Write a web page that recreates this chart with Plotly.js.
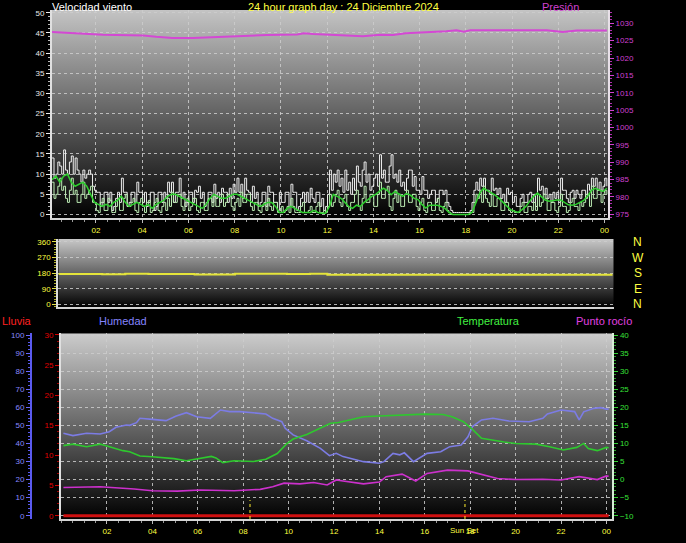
<!DOCTYPE html>
<html><head><meta charset="utf-8">
<script src="https://cdn.plot.ly/plotly-3.0.1.min.js"></script>
<style>html,body{margin:0;padding:0;background:#000;}#chart{width:686px;height:543px;}</style>
</head><body><div id="chart"></div>
<script>
// ---------- DATA ----------
const HOUR_TICKS = [2,4,6,8,10,12,14,16,18,20,22,24];
const HOUR_LABELS = ["02","04","06","08","10","12","14","16","18","20","22","00"];

// gust & speed sampled every 5 minutes starting 00:06 (one row per hour)
const GUST_START_H = 0.1;
const GUST_STEP_H = 1/12;
const windGust = [
 14,9,10,13,12,10,16,11,10,13,14.5,10,
 14,11,10,8,11,9,10,11,10,7,6,5.5,
 5.5,2,3,5.5,5.5,3,5.5,1,2,4,5.5,3,
 9,5.5,5.5,2,3,5.5,5.5,3,8,5.5,5.5,3,
 5.5,2,3,5.5,5.5,1,2,5.5,5.5,3,5.5,4,
 8,5.5,8,3,5.5,5.5,9,4,5.5,2,3,5.5,
 5.5,3,6,5.5,7,4,5.5,2,3,5.5,5.5,3,
 7.5,4,5.5,3,6.5,5.5,5.5,3,6.5,4,7.5,5.5,
 9,5.5,7.5,4,9,6,5.5,3,7,4,5.5,2,
 3,5.5,5.5,2,7,5.5,5.5,3,3,1,5.5,3,
 3,5.5,5.5,2,7.5,5.5,5.5,1,2,4,5.5,3,
 5.5,3,6.5,4,3,5.5,5.5,2,4,1,2,5,
 11,6,10,8,11,7,9,5.5,11,6,8,5,
 9,6,12,8,7,11,13,8,10,6,7,9,
 10,7,14.8,9,11,8,8,12,14.8,9,10,8,
 11,7,8,6,9,11,11,7,9.4,6,6,5,
 9.4,6,6,4,5,6,6,3,4,6,6,5,
 6,3,2,1,0.5,0.5,0.5,0.5,0.5,0.5,0.5,0.5,
 0.5,1,3,6,8,6,9,7,9,6,6,5,
 9,6,6.5,5,6.5,4,5,3,6.5,5,5.5,3,
 4.5,2,2,4,5,3,3,5,5.5,3,5,2,
 9,6,7,5,6.5,4,5,3,5.5,4,5.5,3,
 9,6,6,4,3,5.5,6,4,6,5,4,6,
 6,4,7.5,6,9,7,9,6,8,6,7,9,
 7];
const windSpeed = [
 8,4,5,7,9,6,7,4,3,6,9,5,
 6,3,3,5,8,4,5,6,7,3,3,1,
 0.5,3,4,1,1,4,3.5,0.5,0.5,2,4,1,
 1,4,5,2,2,3,4,1,0.5,3,4,2,
 0.5,3,3.5,0.5,1,3,4,1,0.5,2,3,1,
 4,2,5.5,3,3,5,5,2,1,3,4,1,
 2,4,4,1,0.5,3,3,1,1,4,4,2,
 4.5,2,2,4,5,2,3,5,4.5,2,1,3,
 4,2,5.5,3,3,5,5,2,1,3,3,1,
 0.5,2,3,1,4,2,1,3,3,0.5,0.5,2,
 0.5,1,2,0.5,4,2,0.5,0.5,0.5,2,3,0.5,
 0.5,1,2,0.5,0.5,2,3,0.5,0.5,1,0.5,2,
 5,2,3,5,6,3,2,4,5,2,1,3,
 3,5,6,2,1,4,7,3,3,5,5,2,
 2,5,8,4,4,6,7,2,1,4,6,3,
 5,2,2,5,6,3,3,5,5,2,1,3,
 4,1,0.5,3,3,1,1,3,4,1,0.5,2,
 3,1,0.5,0,0,0,0,0,0,0,0,0,
 0,0.5,0.5,3,5,4,6,3,7,4,3,2,
 5,2,2,4,4,1,1,3,3,1,0.5,1,
 0.5,0.5,0.5,2,3,0.5,0.5,2,2,1,3,1,
 5,2,3,5,4,1,1,3,3,1,0.5,2,
 5,2,2,0.5,1,3,4,2,2,1,3,2,
 3,5,5,2,7,4,4,6,6,3,5,6,
 5];
const gustTime = windGust.map((_, i) => GUST_START_H + i * GUST_STEP_H);

// average speed sampled every 10 minutes starting 00:06
const AVG_START_H = 0.1;
const AVG_STEP_H = 1/6;
const windAvg = [
 8.6,9.5,8,9.5,10,8, 7,7.5,8,7,5,3, 2.5,2,2.5,2,3,3.5, 4.5,3,2,2.5,3,2.5,
 2,2.5,1.5,2.5,3,3.5, 4.5,5,5,4.5,4,3.5, 3,2.5,2,1.5,2.5,4, 5,4.5,4,4,4.5,5,
 5,4.5,4,3.5,3,2.5, 2,2.5,3,3,2,0.5, 0.5,1.5,2,1.5,1,0.5, 0.5,0.5,1,0.5,0.3,0.3,
 2,5,4.5,4,3,2, 1.5,2.3,2,3,3.7,4.5, 5,5.7,6.5,6,4.9,5.7, 5,4.5,5.2,4.8,4,3.7,
 2.5,1.6,2.3,2.3,2.3,2, 1.5,0.5,0,0,0,0, 0,0.5,2.8,5.3,6.5,6, 5.5,4.8,4,3,2,1.2,
 0.8,0.5,1.2,2,3.3,4.5, 5.3,4.5,3.6,3.3,3.5,3.6, 3.6,3,2.4,2.3,2.5,3, 3.5,4.5,6,6.5,6,5.7, 6.5];
const avgTime = windAvg.map((_, i) => AVG_START_H + i * AVG_STEP_H);

const pressTime = [0.1,0.73,1.5,2.3,4.05,4.6,5.3,6.2,7.2,7.9,9.4,10.7,11.0,11.4,12.7,13.55,14.3,14.85,15.4,16.4,17.15,17.6,17.9,18.2,21.3,21.5,22.2,22.8,24.1];
const pressure = [1027.5,1027.2,1027.0,1026.7,1026.5,1026.1,1025.8,1025.8,1026.1,1026.3,1026.6,1026.8,1027.1,1026.9,1026.5,1026.3,1026.7,1026.6,1027.1,1027.4,1027.7,1028.0,1027.6,1028.0,1028.2,1028.0,1027.5,1027.9,1027.9];

const dirTime = [0.1,1,2,3,4,5,5.95,6.0,7.0,7.7,7.75,9,10,11,11.7,11.75,15,20,24.1];
const windDir = [175,175,174,176,175,175,175,172,172,172,176,176,175,176,176,170,170,170,170];
const DIR_TICKS = [0,90,180,270,360];
const DIR_LETTERS = ["N","E","S","W","N"];

const tempTime = [0.08,0.5,1.1,1.7,2.0,2.35,2.7,3.0,3.45,4.0,4.5,4.95,5.5,6.0,6.6,6.8,7.1,7.6,8.0,8.45,9.0,9.5,9.9,10.2,10.8,11.2,11.85,12.2,12.7,13.3,14.0,14.6,15.3,16.0,16.8,17.2,17.7,18.1,18.5,19.0,19.5,20.0,20.5,20.9,21.5,22.1,22.7,23.0,23.2,23.6,24.0,24.1];
const temperature = [9.4,9.8,9.1,9.8,9.3,8.6,8.0,7.7,6.5,6.3,6.1,5.8,5.2,5.8,6.4,6.0,4.7,5.2,5.2,5.0,5.6,7.2,9.8,11.2,12.5,13.7,15.6,15.8,16.5,17.4,17.6,17.8,17.95,18.1,18.0,17.4,16.0,13.9,11.4,10.8,10.4,10.0,9.9,9.8,9.1,8.2,8.9,10.0,8.6,8.0,8.9,8.8];

const humTime = [0.08,0.5,1.1,1.7,2.1,2.4,2.85,3.0,3.3,3.45,4.0,4.6,5.05,5.5,5.95,6.55,7.0,7.4,7.85,8.4,9.0,9.3,9.7,9.85,10.2,10.8,11.4,11.8,12.1,12.4,13.3,14.0,14.2,14.6,14.9,15.1,15.5,16.1,16.7,17.1,17.6,17.9,18.1,18.5,19.0,19.7,20.6,21.2,21.4,22.0,22.6,22.8,23.0,23.45,23.75,24.0,24.1];
const humidity = [45.6,44.3,45.6,45.2,46.5,48.9,50.2,50.0,51.5,53.9,53.3,52.6,55.2,57.0,54.8,53.9,58.5,57.6,57.6,57.0,56.3,53.9,52.0,48.4,44.7,41.5,37.3,33.2,34.5,32.7,29.9,29.0,29.9,34.5,33.7,34.8,29.9,34.5,35.4,38.2,39.1,43.7,49.3,53.0,53.9,52.4,52.0,53.9,56.3,58.5,57.6,53.0,57.5,59.4,59.8,59.0,59.0];

const dewTime = [0.08,1.7,3.2,4.0,5.1,6.1,7.6,8.75,9.3,9.8,10.5,11.1,11.7,12.1,12.4,13.3,14.0,14.3,15.0,15.6,16.1,17.0,17.9,18.5,19.2,20.0,21.2,22.0,22.8,23.6,24.0,24.1];
const dewPoint = [-2.2,-2.0,-2.6,-3.1,-3.2,-2.9,-3.1,-2.7,-2.0,-1.0,-1.2,-0.8,-1.5,-0.1,-0.4,-1.2,-0.7,0.8,1.5,-0.4,1.7,2.6,2.4,1.5,0.3,0.0,0.1,-0.1,0.8,0.0,1.0,0.9];

const rainTime = [0.08, 24.1];
const rain = [0, 0];

const sunEvents = [8.3, 17.77];
const sunLabels = ["", "Sun Set"];

// ---------- STYLE / LAYOUT ----------
const W = 686, H = 543;
const px = x => x / W;
const py = y => 1 - y / H;
const FONT = "Liberation Sans, Arial, sans-serif";
const GRID = 'rgba(205,205,205,0.85)';

function gradientImage(x0, x1, y0, y1, top, bottom) {
  const svg = "<svg xmlns='http://www.w3.org/2000/svg' width='10' height='100' viewBox='0 0 10 100' preserveAspectRatio='none'>" +
    "<defs><linearGradient id='g' x1='0' y1='0' x2='0' y2='1'><stop offset='0' stop-color='" + top + "'/>" +
    "<stop offset='1' stop-color='" + bottom + "'/></linearGradient></defs>" +
    "<rect width='10' height='100' fill='url(#g)'/></svg>";
  return {
    source: "data:image/svg+xml;charset=utf-8," + encodeURIComponent(svg),
    xref: 'paper', yref: 'paper', x: px(x0), y: py(y0),
    sizex: px(x1) - px(x0), sizey: py(y0) - py(y1),
    xanchor: 'left', yanchor: 'top', sizing: 'stretch', layer: 'below'
  };
}

const traces = [
  {x: gustTime, y: windGust, xaxis: 'x', yaxis: 'y', mode: 'lines', line: {color: '#eeeeee', width: 1, shape: 'hv'}},
  {x: gustTime, y: windSpeed, xaxis: 'x', yaxis: 'y', mode: 'lines', line: {color: '#bcecb4', width: 1, shape: 'hv'}},
  {x: avgTime, y: windAvg, xaxis: 'x', yaxis: 'y', mode: 'lines', line: {color: '#2ed02e', width: 1.5}},
  {x: pressTime, y: pressure, xaxis: 'x', yaxis: 'y4', mode: 'lines', line: {color: '#d448d4', width: 2}},
  {x: dirTime, y: windDir, xaxis: 'x2', yaxis: 'y2', mode: 'lines', line: {color: '#e4e43a', width: 2, shape: 'hv'}},
  {x: humTime, y: humidity, xaxis: 'x3', yaxis: 'y5', mode: 'lines', line: {color: '#7c7ce4', width: 1.6}},
  {x: tempTime, y: temperature, xaxis: 'x3', yaxis: 'y6', mode: 'lines', line: {color: '#2ec82e', width: 1.6}},
  {x: dewTime, y: dewPoint, xaxis: 'x3', yaxis: 'y6', mode: 'lines', line: {color: '#cc30cc', width: 1.6}},
  {x: rainTime, y: rain, xaxis: 'x3', yaxis: 'y3', mode: 'lines', line: {color: '#d01010', width: 3}}
];

const tickFont = c => ({family: FONT, size: 8, color: c});
const xCommon = {
  tickmode: 'array', tickvals: HOUR_TICKS, ticktext: HOUR_LABELS,
  ticks: 'outside', ticklen: 3, tickcolor: '#bbbbbb', tickfont: tickFont('#ffff40'),
  showgrid: true, gridcolor: GRID, griddash: 'dot', gridwidth: 1,
  showline: true, linecolor: '#d4d4d4', linewidth: 2, zeroline: false,
  minor: {tickmode: 'linear', tick0: 0, dtick: 0.5, ticks: 'outside', ticklen: 2, tickcolor: '#999999', showgrid: false},
  automargin: false, fixedrange: true
};

const annotations = [
  {text: 'Velocidad viento', x: px(50), y: py(6.5), xanchor: 'left', color: '#ffffff'},
  {text: '24 hour graph day : 24 Diciembre 2024', x: px(343), y: py(6.5), xanchor: 'center', color: '#ffff40'},
  {text: 'Presión', x: px(540), y: py(6.5), xanchor: 'left', color: '#d040d0'},
  {text: 'Lluvia', x: px(0), y: py(321), xanchor: 'left', color: '#ff2020'},
  {text: 'Humedad', x: px(97), y: py(321), xanchor: 'left', color: '#8484ff'},
  {text: 'Temperatura', x: px(455), y: py(321), xanchor: 'left', color: '#40f040'},
  {text: 'Punto rocío', x: px(574), y: py(321), xanchor: 'left', color: '#e040e0'}
].map(a => ({text: a.text, x: a.x, y: a.y, xref: 'paper', yref: 'paper', xanchor: a.xanchor, yanchor: 'middle',
  showarrow: false, font: {family: FONT, size: 11, color: a.color}}));

DIR_TICKS.forEach((v, i) => annotations.push({
  text: DIR_LETTERS[i], x: px(637.7), xref: 'paper', y: v, yref: 'y2', xanchor: 'center', yanchor: 'middle',
  showarrow: false, font: {family: FONT, size: 12, color: '#ffff40'}
}));
sunEvents.forEach((t, i) => { if (sunLabels[i]) annotations.push({
  text: sunLabels[i], x: t, xref: 'x3', y: py(530), yref: 'paper', xanchor: 'center', yanchor: 'middle',
  showarrow: false, font: {family: FONT, size: 8, color: '#ffff40'}
}); });

const shapes = sunEvents.map(t => ({type: 'line', xref: 'x3', yref: 'y3', x0: t, x1: t, y0: -0.55, y1: 2.6,
  line: {color: '#ffee30', width: 1, dash: 'dot'}}));

const layout = {
  width: W, height: H, margin: {l: 0, r: 0, t: 0, b: 0, pad: 0},
  paper_bgcolor: '#000000', plot_bgcolor: 'rgba(0,0,0,0)', showlegend: false,
  font: {family: FONT, size: 8, color: '#ffffff'},
  images: [
    gradientImage(52, 608, 10, 218, '#c4c4c4', '#000000'),
    gradientImage(58.3, 613.7, 239, 307.3, '#c8c8c8', '#000000'),
    gradientImage(61, 612.3, 333.3, 519, '#cccccc', '#000000')
  ],
  xaxis: Object.assign({}, xCommon, {domain: [px(52), px(608)], anchor: 'y', range: [0.097, 24.15]}),
  yaxis: {domain: [py(218), py(10)], anchor: 'x', range: [-0.87, 50.67], tick0: 0, dtick: 5,
    ticks: 'outside', ticklen: 4, tickcolor: '#eeeeee', tickfont: tickFont('#e8e8e8'),
    showgrid: true, gridcolor: GRID, griddash: 'dot', showline: true, linecolor: '#e0e0e0', linewidth: 2,
    zeroline: false, minor: {dtick: 1, ticks: 'outside', ticklen: 2, tickcolor: '#bbbbbb'}, automargin: false, fixedrange: true},
  yaxis4: {overlaying: 'y', side: 'right', anchor: 'x', range: [973.93, 1033.83], tick0: 975, dtick: 5,
    ticks: 'outside', ticklen: 4, tickcolor: '#d040d0', tickfont: tickFont('#d040d0'),
    showgrid: false, showline: true, linecolor: '#e8e0e8', linewidth: 2, zeroline: false,
    minor: {dtick: 1, ticks: 'outside', ticklen: 2, tickcolor: '#b030b0'}, automargin: false, fixedrange: true},
  xaxis2: {domain: [px(58.3), px(613.7)], anchor: 'y2', range: [0.097, 24.15], showticklabels: false, ticks: '',
    showgrid: false, showline: true, linecolor: '#d4d4d4', linewidth: 2, zeroline: false, automargin: false, fixedrange: true},
  yaxis2: {domain: [py(307.3), py(239)], anchor: 'x2', range: [-17.3, 377], tickmode: 'array', tickvals: DIR_TICKS,
    ticks: 'outside', ticklen: 4, tickcolor: '#e0e040', tickfont: tickFont('#ffff40'),
    showgrid: true, gridcolor: GRID, griddash: 'dot', showline: true, linecolor: '#dcdcdc', linewidth: 2, zeroline: false,
    minor: {tickmode: 'linear', tick0: 0, dtick: 15, ticks: 'outside', ticklen: 2, tickcolor: '#b0b030'}, automargin: false, fixedrange: true},
  xaxis3: Object.assign({}, xCommon, {domain: [px(61), px(612.3)], anchor: 'y3', range: [-0.026, 24.26]}),
  yaxis3: {domain: [py(519), py(333.3)], anchor: 'x3', range: [-0.55, 30.28], tick0: 0, dtick: 5,
    ticks: 'outside', ticklen: 4, tickcolor: '#d00000', tickfont: tickFont('#e00000'),
    showgrid: false, showline: true, linecolor: '#e0e0e0', linewidth: 2, zeroline: false,
    minor: {dtick: 1, ticks: 'outside', ticklen: 2, tickcolor: '#a00000'}, automargin: false, fixedrange: true},
  yaxis5: {overlaying: 'y3', anchor: 'free', position: px(31), side: 'left', range: [-1.83, 100.94], tick0: 0, dtick: 10,
    ticks: 'outside', ticklen: 4, tickcolor: '#6868ff', tickfont: tickFont('#8888ff'),
    showgrid: false, showline: true, linecolor: '#5a5af0', linewidth: 2, zeroline: false,
    minor: {dtick: 2, ticks: 'outside', ticklen: 2, tickcolor: '#5a5af0'}, automargin: false, fixedrange: true},
  yaxis6: {overlaying: 'y3', anchor: 'x3', side: 'right', range: [-10.91, 40.47], tick0: 0, dtick: 5,
    ticks: 'outside', ticklen: 4, tickcolor: '#30d030', tickfont: tickFont('#38e038'),
    showgrid: true, gridcolor: GRID, griddash: 'dot', showline: true, linecolor: '#d8ecd8', linewidth: 2, zeroline: false,
    minor: {dtick: 1, ticks: 'outside', ticklen: 2, tickcolor: '#28a028'}, automargin: false, fixedrange: true},
  annotations: annotations,
  shapes: shapes
};

Plotly.newPlot('chart', traces, layout, {staticPlot: true, displayModeBar: false});
</script></body></html>
